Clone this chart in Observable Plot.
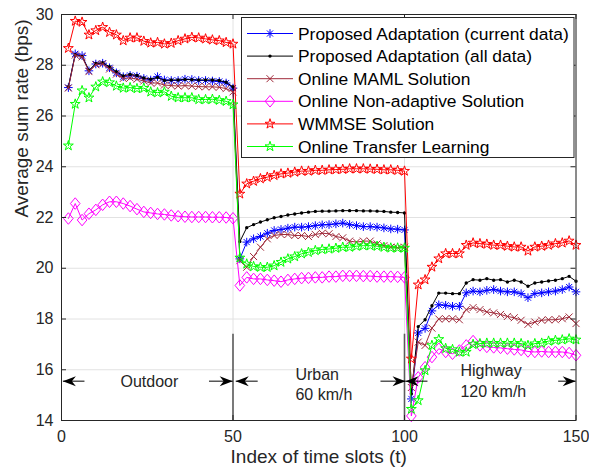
<!DOCTYPE html>
<html><head><meta charset="utf-8">
<script src="https://cdn.jsdelivr.net/npm/d3@7"></script>
<script src="https://cdn.jsdelivr.net/npm/@observablehq/plot@0.6"></script>
<style>body{margin:0;background:#fff}#chart{width:589px;height:471px}</style>
</head><body><div id="chart"></div>
<script>
// ---- data ----
const slots = d3.range(2, 151, 2); // time slot index of each sample
const seriesNames = ["Proposed Adaptation (current data)","Proposed Adaptation (all data)","Online MAML Solution","Online Non-adaptive Solution","WMMSE Solution","Online Transfer Learning"];
const proposedCurrent = [
 27.12,28.45,28.38,27.78,28.05,28.08,27.9,27.7,27.55,27.6,27.57,27.48,27.42,27.55,27.42,27.4,27.4,27.45,27.44,27.4,27.4,27.38,27.36,27.3,27.1,
 20.37,21.03,21.16,21.25,21.38,21.49,21.53,21.58,21.62,21.62,21.64,21.68,21.71,21.72,21.75,21.78,21.72,21.68,21.64,21.64,21.62,21.59,21.55,21.54,21.51,
 14.85,17.45,17.63,18.32,18.56,18.54,18.5,18.5,19.03,19.1,19.07,19.13,19.16,19.1,19.07,19.07,19.0,18.84,19.0,19.03,19.07,19.1,19.16,19.26,19.07];
const proposedAll = [
 27.15,28.42,28.35,27.8,28.07,28.1,27.94,27.75,27.58,27.64,27.6,27.5,27.45,27.52,27.4,27.42,27.42,27.44,27.43,27.42,27.42,27.42,27.4,27.33,27.15,
 21.05,21.6,21.72,21.82,21.91,21.99,22.04,22.1,22.14,22.18,22.21,22.24,22.25,22.25,22.26,22.27,22.27,22.27,22.26,22.26,22.25,22.24,22.21,22.2,22.18,
 15.05,17.7,17.97,18.52,19.02,19.02,19.0,19.0,19.42,19.55,19.53,19.59,19.53,19.55,19.46,19.53,19.46,19.29,19.42,19.46,19.5,19.53,19.59,19.68,19.49];
const onlineMAML = [
 27.1,28.4,28.33,27.75,28.02,28.05,27.85,27.65,27.48,27.5,27.45,27.38,27.3,27.3,27.22,27.2,27.18,27.2,27.18,27.16,27.15,27.15,27.13,27.08,26.95,
 20.3,20.04,20.46,20.83,21.16,21.29,21.33,21.33,21.29,21.29,21.25,21.33,21.38,21.36,21.25,21.2,21.07,21.03,21.07,21.07,20.96,20.89,20.83,20.81,20.83,
 15.3,17.09,16.96,17.64,18.0,18.01,18.01,17.97,18.37,18.45,18.37,18.28,18.24,18.18,18.1,18.05,17.95,17.79,17.88,17.95,17.97,17.97,18.01,18.08,17.82];
const onlineNonAdaptive = [
 21.96,22.55,21.9,22.15,22.3,22.5,22.62,22.62,22.55,22.45,22.33,22.22,22.18,22.14,22.12,22.08,22.05,22.03,22.02,22.02,22.02,22.01,22.01,22.0,21.97,
 19.32,19.64,19.58,19.58,19.54,19.51,19.47,19.54,19.58,19.61,19.62,19.64,19.64,19.67,19.67,19.7,19.7,19.7,19.69,19.69,19.67,19.67,19.67,19.66,19.64,
 14.18,15.7,16.1,16.5,16.83,16.7,16.63,16.76,16.96,17.13,16.96,16.9,16.88,16.86,16.83,16.8,16.78,16.72,16.7,16.72,16.7,16.7,16.7,16.66,16.57];
const wmmse = [
 28.67,29.74,29.7,29.2,29.37,29.5,29.3,29.2,28.97,29.08,29.08,28.95,28.88,28.9,28.84,28.87,28.97,29.04,29.1,29.08,29.04,29.0,28.97,28.9,28.84,
 22.93,23.33,23.43,23.53,23.59,23.66,23.72,23.75,23.79,23.83,23.83,23.86,23.86,23.88,23.89,23.9,23.92,23.92,23.92,23.91,23.9,23.88,23.88,23.86,23.83,
 16.43,19.35,19.55,20.05,20.38,20.58,20.58,20.58,20.91,21.0,20.97,20.95,20.91,20.91,20.87,20.84,20.84,20.68,20.84,20.87,20.91,20.97,21.0,21.08,20.91];
const transferLearning = [
 24.83,26.47,27.0,26.72,27.15,27.35,27.32,27.18,27.1,27.12,27.08,27.1,26.95,26.92,26.95,26.78,26.72,26.72,26.72,26.65,26.65,26.66,26.62,26.58,26.45,
 20.41,20.17,20.07,20.04,20.04,20.1,20.24,20.37,20.46,20.57,20.63,20.7,20.74,20.76,20.79,20.83,20.83,20.87,20.89,20.89,20.87,20.83,20.8,20.8,20.8,
 14.45,14.79,15.97,16.96,17.2,16.84,16.8,16.7,16.7,17.0,17.03,17.05,17.05,17.05,17.05,17.05,17.03,16.96,17.03,17.05,17.13,17.16,17.18,17.22,17.18];
const xTicks = [0, 50, 100, 150];
const yTicks = [14, 16, 18, 20, 22, 24, 26, 28, 30];
const segmentBounds = [50, 100];
const segmentTexts = ["Outdoor", "Urban\n60 km/h", "Highway\n120 km/h"];
const segmentTextX = [17.2, 68.2, 116.3];
const segmentTextY = [15.58, 15.47, 15.6];
const arrowTail = [6.7, 43.0, 57.2, 93.0, 106.7, 144.8];
const arrowHead = [0.4, 49.9, 50.8, 100.3, 100.3, 149.9];
const arrowY = 15.55;
const boundaryTop = 17.4;

// ---- symbols ----
const rad = s => Math.sqrt(s / Math.PI);
const symAsterisk = {draw(c, s){const r=rad(s), d=r*0.7071; c.moveTo(-r,0);c.lineTo(r,0);c.moveTo(0,-r);c.lineTo(0,r);c.moveTo(-d,-d);c.lineTo(d,d);c.moveTo(-d,d);c.lineTo(d,-d);}};
const symTimes = {draw(c, s){const r=rad(s); c.moveTo(-r,-r);c.lineTo(r,r);c.moveTo(-r,r);c.lineTo(r,-r);}};
const symDiamond = {draw(c, s){const r=rad(s); c.moveTo(0,-1.2*r);c.lineTo(r,0);c.lineTo(0,1.2*r);c.lineTo(-r,0);c.closePath();}};
const symPentagram = {draw(c, s){const R=rad(s); for(let i=0;i<10;i++){const a=-Math.PI/2+i*Math.PI/5, q=i%2?R*0.382:R; i?c.lineTo(q*Math.cos(a),q*Math.sin(a)):c.moveTo(q*Math.cos(a),q*Math.sin(a));} c.closePath();}};
const symDot = {draw(c, s){const r=rad(s); c.moveTo(r,0); c.arc(0,0,r,0,2*Math.PI);}};
const headRight = {draw(c){c.moveTo(0,0);c.lineTo(-13,-5);c.lineTo(-9,0);c.lineTo(-13,5);c.closePath();}};
const headLeft = {draw(c){c.moveTo(0,0);c.lineTo(13,-5);c.lineTo(9,0);c.lineTo(13,5);c.closePath();}};

const series = [
  {name: seriesNames[0], values: proposedCurrent, color: "#0000ff", symbol: symAsterisk, r: 4.3, fill: "none"},
  {name: seriesNames[1], values: proposedAll, color: "#000000", symbol: symDot, r: 1.7, fill: "#000000"},
  {name: seriesNames[2], values: onlineMAML, color: "#a02a3a", symbol: symTimes, r: 3.5, fill: "none"},
  {name: seriesNames[3], values: onlineNonAdaptive, color: "#ff00ff", symbol: symDiamond, r: 4.8, fill: "none"},
  {name: seriesNames[4], values: wmmse, color: "#ff0000", symbol: symPentagram, r: 5.2, fill: "none"},
  {name: seriesNames[5], values: transferLearning, color: "#00ff00", symbol: symPentagram, r: 5.2, fill: "none"}
];
const rowsOf = s => slots.map((x, i) => ({x, y: s.values[i]}));
const arrows = arrowTail.map((t, i) => ({x1: t, x2: arrowHead[i], y: arrowY, dir: arrowHead[i] < t ? "left" : "right"}));
const labels = segmentTexts.map((t, i) => ({text: t, x: segmentTextX[i], y: segmentTextY[i]}));

const W = 589, H = 471, mL = 61, mR = 13.5, mT = 14, mB = 51;
const innerW = W - mL - mR, innerH = H - mT - mB;
const ink = "#262626";
const font = "'Liberation Sans', Arial, Helvetica, sans-serif";

const chart = Plot.plot({
  width: W, height: H, marginLeft: mL, marginRight: mR, marginTop: mT, marginBottom: mB,
  style: {fontFamily: font, background: "white", color: ink},
  x: {domain: [0, 150], axis: null},
  y: {domain: [14, 30], axis: null},
  marks: [
    Plot.ruleY(yTicks, {y: d => d, stroke: "#e2e2e2"}),
    Plot.ruleX(xTicks, {x: d => d, stroke: "#e2e2e2"}),
    Plot.ruleX(segmentBounds, {x: d => d, y1: 14, y2: boundaryTop, stroke: "#5c5c5c", strokeWidth: 1.6}),
    ...series.flatMap(s => [
      Plot.line(rowsOf(s), {x: "x", y: "y", stroke: s.color, strokeWidth: 1}),
      Plot.dot(rowsOf(s), {x: "x", y: "y", symbol: s.symbol, r: s.r, stroke: s.fill === "none" ? s.color : "none", fill: s.fill, strokeWidth: 1})
    ]),
    Plot.link(arrows, {x1: "x1", x2: "x2", y1: "y", y2: "y", stroke: "black", strokeWidth: 1}),
    Plot.dot(arrows.filter(a => a.dir === "right"), {x: "x2", y: "y", symbol: headRight, fill: "black", stroke: "none"}),
    Plot.dot(arrows.filter(a => a.dir === "left"), {x: "x2", y: "y", symbol: headLeft, fill: "black", stroke: "none"}),
    Plot.text(labels, {x: "x", y: "y", text: "text", textAnchor: "start", fontSize: 16, lineHeight: 1.28, fill: ink}),
    Plot.tickY(yTicks, {y: d => d, insetRight: innerW - 5, stroke: ink}),
    Plot.tickY(yTicks, {y: d => d, insetLeft: innerW - 5, stroke: ink}),
    Plot.tickX(xTicks, {x: d => d, insetTop: innerH - 5, stroke: ink}),
    Plot.tickX(xTicks, {x: d => d, insetBottom: innerH - 5, stroke: ink}),
    Plot.frame({stroke: ink}),
    Plot.axisY(yTicks, {tickSize: 0, tickPadding: 8, fontSize: 16, label: null, fill: ink}),
    Plot.axisX(xTicks, {tickSize: 0, tickPadding: 10, fontSize: 16, label: null, fill: ink}),
    Plot.text(["Average sum rate (bps)"], {text: d => d, frameAnchor: "left", dx: -40, rotate: -90, fontSize: 19, fill: ink}),
    Plot.text(["Index of time slots (t)"], {text: d => d, frameAnchor: "bottom", dy: 42, fontSize: 19, fill: ink})
  ]
});

// legend
const svg = d3.select(chart);
const lg = svg.append("g").attr("text-anchor", "start");
lg.append("rect").attr("x", 241.5).attr("y", 17.5).attr("width", 332.5).attr("height", 140)
  .attr("fill", "white").attr("stroke", ink).attr("stroke-width", 1);
series.forEach((s, i) => {
  const cy = 33.5 + i * 22.6;
  lg.append("line").attr("x1", 247).attr("x2", 293).attr("y1", cy).attr("y2", cy)
    .attr("stroke", s.color).attr("stroke-width", 1);
  lg.append("path").attr("transform", `translate(270,${cy})`)
    .attr("d", d3.symbol().type(s.symbol).size(Math.PI * s.r * s.r)())
    .attr("fill", s.fill).attr("stroke", s.fill === "none" ? s.color : "none").attr("stroke-width", 1);
  lg.append("text").attr("x", 298).attr("y", cy).attr("dy", "0.35em").attr("font-size", 17.4)
    .attr("text-anchor", "start").attr("font-family", font).attr("fill", "#000").text(s.name);
});
document.getElementById("chart").appendChild(chart);
</script>
</body></html>
